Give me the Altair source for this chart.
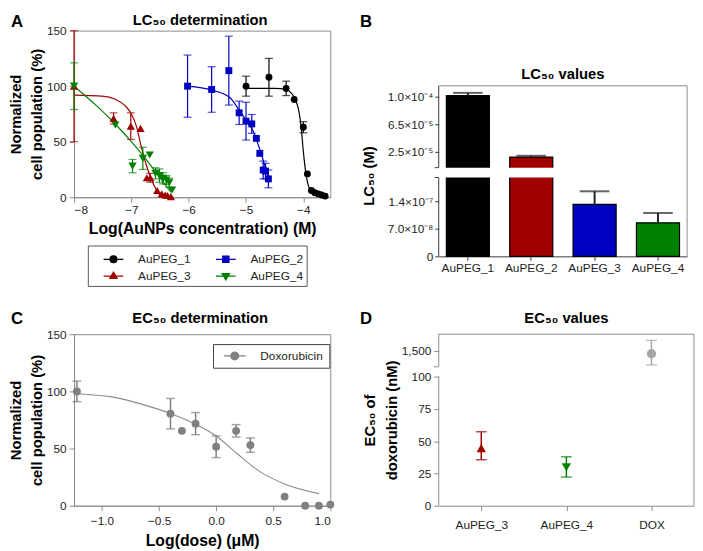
import altair as alt
import pandas as pd

FONT = "Liberation Sans"
LBL = "#1e1e1e"
AXG = "#8c8c8c"
AXD = "#3a3a3a"
T = 26  # page y of top row plot (as laid out)

# ---------------- Panel A data ----------------
names = ["AuPEG_1", "AuPEG_2", "AuPEG_3", "AuPEG_4"]
colors = ["#000000", "#0000c0", "#a00000", "#008000"]
shapes = ["circle", "square", "triangle-up", "triangle-down"]
msizes = [49, 49, 70, 70]
legend_paths = [
    "M-1,0L1,0M0.35,0A0.35,0.35,0,1,1,-0.35,0A0.35,0.35,0,1,1,0.35,0Z",
    "M-1,0L1,0M-0.32,-0.32L0.32,-0.32L0.32,0.32L-0.32,0.32Z",
    "M-1,0L1,0M0,-0.4L0.38,0.25L-0.38,0.25Z",
    "M-1,0L1,0M0,0.4L0.38,-0.25L-0.38,-0.25Z",
]

p1_x = [-5.0, -4.6, -4.3, -4.16, -4.0, -3.93, -3.86, -3.80, -3.74, -3.68, -3.62]
p1_y = [100, 108, 98, 88, 63, 21, 6, 4, 3, 2, 1]
p1_e = [9, 17, 6.5, 0, 5, 0, 0, 0, 0, 0, 0]
p2_x = [-6.02, -5.6, -5.3, -5.12, -5.0, -4.9, -4.82, -4.76, -4.70, -4.66, -4.61]
p2_y = [100, 97, 114, 76, 68.5, 66, 53, 39.5, 24.5, 23.5, 16.5]
p2_e = [28, 20.5, 31, 10.5, 17, 8.5, 0, 0, 8, 7, 8]
p3_x = [-8.0, -7.31, -7.01, -6.84, -6.73, -6.67, -6.55, -6.47, -6.41, -6.37, -6.31]
p3_y = [100, 71, 64, 62, 17.5, 17.5, 6, 3, 2, 1.5, 0.5]
p3_e = [50, 5, 12, 0, 0, 4, 0, 0, 0, 0, 0]
p4_x = [-8.0, -7.28, -6.98, -6.80, -6.68, -6.58, -6.51, -6.45, -6.39, -6.34, -6.29]
p4_y = [100, 65, 28, 35, 38, 21.5, 19.5, 17, 15.5, 13, 6.5]
p4_e = [21, 0, 6, 10, 0, 5, 6, 5, 4, 4, 0]

c1_x = [-5.0, -4.5, -4.28, -4.23, -4.14, -4.08, -4.04, -4.0, -3.96, -3.91, -3.86, -3.75, -3.62]
c1_y = [98, 98, 96.8, 94.8, 88, 78, 64, 41, 23, 10, 5.8, 3, 1.5]
c2_x = [-6.02, -5.6, -5.28, -5.14, -5.0, -4.88, -4.82, -4.74, -4.66, -4.60]
c2_y = [100, 96.5, 89.6, 80, 69.4, 60, 52, 40, 26, 15]
c3_x = [-8.0, -7.51, -7.29, -7.11, -7.0, -6.91, -6.83, -6.74, -6.66, -6.57, -6.49, -6.40, -6.31]
c3_y = [92, 91, 88.4, 82.4, 75, 63.6, 46, 29, 17.3, 7.2, 1.4, 0.2, 0]
c4_x = [-8.0, -7.6, -7.29, -7.0, -6.8, -6.55, -6.31]
c4_y = [100, 82, 66.4, 50, 37.6, 21, 4.3]

a_xticks = [-8, -7, -6, -5, -4]
a_yticks = [0, 50, 100, 150]

# ---------------- Panel B data ----------------
b_names = ["AuPEG_1", "AuPEG_2", "AuPEG_3", "AuPEG_4"]
b_colors = ["#000000", "#a00000", "#0000c0", "#008000"]
b_vals = [1.01e-4, 1.8e-5, 1.32e-7, 8.5e-8]
b_sd = [3.5e-6, 1.8e-6, 3.3e-8, 2.5e-8]
b_domain = [0, 2.0e-7, 3.8e-6, 1.14e-4]
b_ticks = [0, 7e-8, 1.4e-7, 2.5e-5, 6.25e-5, 1.0e-4]
b_labels = ["0", "7.0×10⁻⁸", "1.4×10⁻⁷", "2.5×10⁻⁵", "6.5×10⁻⁵", "1.0×10⁻⁴"]

# ---------------- Panel C data ----------------
c_x = [-1.22, -0.40, -0.30, -0.18, 0.0, 0.175, 0.30, 0.60, 0.78, 0.90, 1.0]
c_y = [100, 80.5, 65.5, 71.8, 51.6, 65.5, 53, 8, 0, 0, 1]
c_e = [9, 13.3, 0, 9.7, 9.5, 5.4, 6.3, 0, 0, 0, 0]
cf_x = [-1.22, -0.914, -0.625, -0.39, -0.19, 0.0, 0.18, 0.38, 0.61, 0.90]
cf_y = [98, 95.2, 88, 80.3, 71.7, 61, 45.9, 30, 18.6, 10.6]
c_xticks = [-1.0, -0.5, 0.0, 0.5, 1.0]
c_path = "M-1,0L1,0M0.36,0A0.36,0.36,0,1,1,-0.36,0A0.36,0.36,0,1,1,0.36,0Z"

# ---------------- Panel D data ----------------
d_names = ["AuPEG_3", "AuPEG_4", "DOX"]
d_vals = [44.6, 29.8, 1400]
d_lo = [35.6, 22.2, 1057]
d_hi = [57.3, 37.9, 1810]
d_colors = ["#a00000", "#008000", "#a6a6a6"]
d_shapes = ["triangle-up", "triangle-down", "circle"]
d_domain = [0, 100, 1000, 2000]
d_ticks = [0, 25, 50, 75, 100, 1500]
d_labels = ["0", "25", "50", "75", "100", "1,500"]

one = pd.DataFrame({"k": [0]})


def label_expr(vals, labels):
    arr_l = "[" + ",".join("'" + s + "'" for s in labels) + "]"
    arr_v = "[" + ",".join(repr(float(v)) for v in vals) + "]"
    return arr_l + "[indexof(" + arr_v + ", datum.value)]"


def letter(ch, x, y):
    return alt.Chart(one).mark_text(
        text=ch, font=FONT, fontSize=17, fontWeight="bold", align="left",
        baseline="alphabetic", color="black"
    ).encode(x=alt.value(x), y=alt.value(y))


def heading(txt, x, y):
    return alt.Chart(one).mark_text(
        text=txt, font=FONT, fontSize=15, fontWeight="bold", align="center",
        baseline="middle", color="black"
    ).encode(x=alt.value(x), y=alt.value(y))


ax_common = dict(labelFont=FONT, labelFontSize=12, labelColor=LBL, titleFont=FONT,
                 titleColor="black", titleFontWeight="bold", grid=False, labelOverlap=False)

# ================= Panel A =================
WA, HA = 260, 195 - T
cmap = dict(zip(names, colors))
rows = []
for n, xs, ys, es in zip(names, [p1_x, p2_x, p3_x, p4_x], [p1_y, p2_y, p3_y, p4_y], [p1_e, p2_e, p3_e, p4_e]):
    for x, y, e in zip(xs, ys, es):
        rows.append({"series": n, "col": cmap[n], "x": x, "y": y, "err": e, "lo": y - e, "hi": y + e})
dA = pd.DataFrame(rows)
dAerr = dA[dA["err"] > 0]
crow = []
for n, xs, ys in zip(names, [c1_x, c2_x, c3_x, c4_x], [c1_y, c2_y, c3_y, c4_y]):
    for x, y in zip(xs, ys):
        crow.append({"series": n, "col": cmap[n], "x": x, "y": y})
dAc = pd.DataFrame(crow)

xA_axis = alt.Axis(values=a_xticks, format="d", title="Log(AuNPs concentration) (M)",
                   titleFontSize=16, labelPadding=3, titlePadding=5, tickSize=5,
                   domainColor=AXG, tickColor=AXG, **ax_common)
yA_axis = alt.Axis(values=a_yticks, format="d", title=["Normalized", "cell population (%)"],
                   titleFontSize=15, titleLineHeight=21, titleX=-51, titleY=HA / 2,
                   labelPadding=3, tickSize=5, domainColor=AXG, tickColor=AXG, **ax_common)
sxA = alt.Scale(domain=[-8, -3.53], nice=False, zero=False)
syA = alt.Scale(domain=[0, 150], nice=False, zero=False)


def xA(f):
    return alt.X(f + ":Q", scale=sxA, axis=xA_axis)


def yA(f):
    return alt.Y(f + ":Q", scale=syA, axis=yA_axis)


colA = alt.Color("col:N", scale=None)

curvesA = alt.Chart(dAc).mark_line(strokeWidth=1.2, interpolate="monotone").encode(
    x=xA("x"), y=yA("y"), color=colA, detail="series:N")
errA = alt.Chart(dAerr).mark_rule(strokeWidth=1.2).encode(x=xA("x"), y=yA("lo"), y2="hi:Q", color=colA)
capLoA = alt.Chart(dAerr).mark_tick(orient="horizontal", size=8, thickness=1.2).encode(x=xA("x"), y=yA("lo"), color=colA)
capHiA = alt.Chart(dAerr).mark_tick(orient="horizontal", size=8, thickness=1.2).encode(x=xA("x"), y=yA("hi"), color=colA)
ptsA = []
for n, s, sz in zip(names, shapes, msizes):
    ptsA.append(alt.Chart(dA[dA["series"] == n]).mark_point(filled=True, shape=s, size=sz, opacity=1)
                .encode(x=xA("x"), y=yA("y"), color=colA))

# legend entries are laid out column by column: order them so rows read 1,2 / 3,4
leg_order = [0, 2, 1, 3]
leg_names = [names[i] for i in leg_order]
leg_colors = [colors[i] for i in leg_order]
leg_paths = [legend_paths[i] for i in leg_order]
legA = alt.Legend(orient="none", legendX=14, legendY=244 - T, columns=2, title=None,
                  strokeColor="#555555", fillColor="white", padding=3, symbolOffset=12,
                  symbolSize=400, symbolStrokeWidth=1.2, symbolOpacity=1,
                  rowPadding=0, columnPadding=12, labelOffset=14, labelFont=FONT,
                  labelFontSize=12, labelColor=LBL)
dAfirst = dA.groupby("series", as_index=False).first()
hiddenA = alt.Chart(dAfirst).mark_point(filled=True, opacity=0).encode(
    x=xA("x"), y=yA("y"),
    fill=alt.Fill("series:N", scale=alt.Scale(domain=leg_names, range=leg_colors), legend=legA),
    stroke=alt.Stroke("series:N", scale=alt.Scale(domain=leg_names, range=leg_colors), legend=legA),
    shape=alt.Shape("series:N", scale=alt.Scale(domain=leg_names, range=leg_paths), legend=legA),
)

chartA = alt.layer(
    curvesA, errA, capLoA, capHiA, *ptsA, hiddenA,
    letter("A", -64, -4), heading("LC₅₀ determination", WA / 2 - 2, -11)
).properties(width=WA, height=HA)

# ================= Panel B =================
WB = 252
HB = 255 - T
b_range = [HB, HB - 80, HB - 90, 82 - T]
dB = pd.DataFrame({"name": b_names, "val": b_vals, "hi": [v + s for v, s in zip(b_vals, b_sd)], "col": b_colors})
syB = alt.Scale(domain=b_domain, range=b_range, nice=False, zero=False)
yB_axis = alt.Axis(values=b_ticks, labelExpr=label_expr(b_ticks, b_labels), title="LC₅₀ (M)",
                   domain=False, tickColor=AXD, tickSize=4, labelPadding=2, titleFontSize=15,
                   titleX=-63, titleY=173 - T, **ax_common)
xB = alt.X("name:N", sort=b_names, scale=alt.Scale(paddingInner=0.32, paddingOuter=0.12),
           axis=alt.Axis(title=None, labelAngle=0, domainColor=AXD, tickColor=AXD, tickSize=4,
                         labelPadding=2, **ax_common))

# decoration geometry (axis segments, break, frame) in data units of the broken scale
segB = pd.DataFrame({"y0": [b_domain[0], b_domain[2]], "y1": [b_domain[1], b_domain[3]]})
gapB_df = pd.DataFrame({"y0": [b_domain[1]], "y1": [b_domain[2]]})
brkB = pd.DataFrame({"y0": [b_domain[1], b_domain[2]]})
topB_df = pd.DataFrame({"y1": [b_domain[3]], "y0": [b_domain[0]]})


def yB(f):
    return alt.Y(f + ":Q", scale=syB, axis=yB_axis)


barsB = alt.Chart(dB).mark_bar(stroke="black", strokeWidth=1.2).encode(
    x=xB, y=yB("val"), color=alt.Color("col:N", scale=None))
errB = alt.Chart(dB).mark_rule(color="#222222", strokeWidth=2).encode(x=xB, y=yB("val"), y2="hi:Q")
capB = alt.Chart(dB).mark_tick(color="#222222", thickness=2, size=30).encode(x=xB, y=yB("hi"))
gapB = alt.Chart(gapB_df).mark_rect(color="white").encode(
    x=alt.value(0), x2=alt.value(WB), y=yB("y0"), y2="y1:Q")
leftB = alt.Chart(segB).mark_rule(color=AXD, strokeWidth=1).encode(
    x=alt.value(0), y=yB("y0"), y2="y1:Q")
brkTicksB = alt.Chart(brkB).mark_rule(color=AXD, strokeWidth=1).encode(
    x=alt.value(-4), x2=alt.value(0), y=yB("y0"))
rightB = alt.Chart(topB_df).mark_rule(color=AXG, strokeWidth=1).encode(
    x=alt.value(WB), y=yB("y0"), y2="y1:Q")
topB = alt.Chart(topB_df).mark_rule(color=AXG, strokeWidth=1).encode(
    x=alt.value(0), x2=alt.value(WB), y=yB("y1"))

chartB = alt.layer(
    barsB, errB, capB, gapB, leftB, brkTicksB, rightB, topB,
    letter("B", -80, -4), heading("LC₅₀ values", WB / 2, 70 - T)
).properties(width=WB, height=HB, view=alt.ViewBackground(stroke="transparent"))

# ================= Panel C =================
WC, HC = 260, 174
dC = pd.DataFrame({"x": c_x, "y": c_y, "err": c_e})
dC["lo"] = dC["y"] - dC["err"]
dC["hi"] = dC["y"] + dC["err"]
dCerr = dC[dC["err"] > 0]
dCf = pd.DataFrame({"x": cf_x, "y": cf_y})
GRAY = "#808080"

xC_axis = alt.Axis(values=c_xticks, format=".1f", title="Log(dose) (μM)", titleFontSize=16,
                   labelPadding=5, titlePadding=6, tickSize=5, domainColor=AXG, tickColor=AXG, **ax_common)
yC_axis = alt.Axis(values=a_yticks, format="d", title=["Normalized", "cell population (%)"],
                   titleFontSize=15, titleLineHeight=21, titleX=-51, titleY=HC / 2,
                   labelPadding=3, tickSize=5, domainColor=AXG, tickColor=AXG, **ax_common)
sxC = alt.Scale(domain=[-1.245, 1.0], nice=False, zero=False)
syC = alt.Scale(domain=[0, 150], nice=False, zero=False)


def xC(f):
    return alt.X(f + ":Q", scale=sxC, axis=xC_axis)


def yC(f):
    return alt.Y(f + ":Q", scale=syC, axis=yC_axis)


curveC = alt.Chart(dCf).mark_line(color="#8c8c8c", strokeWidth=1.1, interpolate="monotone").encode(x=xC("x"), y=yC("y"))
errC = alt.Chart(dCerr).mark_rule(color=GRAY, strokeWidth=1.5).encode(x=xC("x"), y=yC("lo"), y2="hi:Q")
capLoC = alt.Chart(dCerr).mark_tick(orient="horizontal", color=GRAY, size=9, thickness=1.5).encode(x=xC("x"), y=yC("lo"))
capHiC = alt.Chart(dCerr).mark_tick(orient="horizontal", color=GRAY, size=9, thickness=1.5).encode(x=xC("x"), y=yC("hi"))
ptsC = alt.Chart(dC).mark_point(filled=True, shape="circle", size=64, color=GRAY, opacity=1).encode(x=xC("x"), y=yC("y"))
legC = alt.Legend(orient="none", legendX=141, legendY=10, title=None, strokeColor="#444444",
                  fillColor="white", padding=6, symbolOffset=4, symbolType=c_path, symbolSize=484,
                  symbolStrokeWidth=1.2, symbolOpacity=1, clipHeight=12, labelOffset=14,
                  labelFont=FONT, labelFontSize=12, labelColor=LBL)
dCleg = pd.DataFrame({"label": ["Doxorubicin"], "x": [0.0], "y": [50.0]})
hiddenC = alt.Chart(dCleg).mark_point(filled=True, opacity=0).encode(
    x=xC("x"), y=yC("y"),
    fill=alt.Fill("label:N", scale=alt.Scale(domain=["Doxorubicin"], range=[GRAY]), legend=legC),
    stroke=alt.Stroke("label:N", scale=alt.Scale(domain=["Doxorubicin"], range=[GRAY]), legend=legC),
)
chartC = alt.layer(
    curveC, errC, capLoC, capHiC, ptsC, hiddenC,
    letter("C", -64, -10), heading("EC₅₀ determination", WC / 2 - 2, -16)
).properties(width=WC, height=HC)

# ================= Panel D =================
WD, HD = 259, 174
dD = pd.DataFrame({"name": d_names, "val": d_vals, "lo": d_lo, "hi": d_hi, "col": d_colors, "shp": d_shapes})
syD = alt.Scale(domain=d_domain, range=[HD, HD - 131, HD - 141, 0], nice=False, zero=False)
yD_axis = alt.Axis(values=d_ticks, labelExpr=label_expr(d_ticks, d_labels),
                   title=["EC₅₀ of", "doxorubicin (nM)"], titleFontSize=15, titleLineHeight=22,
                   titleX=-62, titleY=HD / 2, domain=False, tickColor=AXG, tickSize=5,
                   labelPadding=3, **ax_common)
xD = alt.X("name:N", sort=d_names, scale=alt.Scale(type="point", padding=0.5),
           axis=alt.Axis(title=None, labelAngle=0, domainColor=AXG, tickColor=AXG, tickSize=5,
                         labelPadding=9, **ax_common))

segD = pd.DataFrame({"y0": [d_domain[0], d_domain[2]], "y1": [d_domain[1], d_domain[3]]})
brkD = pd.DataFrame({"y0": [d_domain[2]]})
topD_df = pd.DataFrame({"y1": [d_domain[3]], "y0": [d_domain[0]]})


def yD(f):
    return alt.Y(f + ":Q", scale=syD, axis=yD_axis)


colD = alt.Color("col:N", scale=None)
errD = alt.Chart(dD).mark_rule(strokeWidth=1.5).encode(x=xD, y=yD("lo"), y2="hi:Q", color=colD)
capLoD = alt.Chart(dD).mark_tick(thickness=1.5, size=11).encode(x=xD, y=yD("lo"), color=colD)
capHiD = alt.Chart(dD).mark_tick(thickness=1.5, size=11).encode(x=xD, y=yD("hi"), color=colD)
ptsD = alt.Chart(dD).mark_point(filled=True, size=90, opacity=1).encode(
    x=xD, y=yD("val"), color=colD, shape=alt.Shape("shp:N", scale=None))
leftD = alt.Chart(segD).mark_rule(color=AXG, strokeWidth=1).encode(
    x=alt.value(0), y=yD("y0"), y2="y1:Q")
brkTicksD = alt.Chart(brkD).mark_rule(color=AXG, strokeWidth=1).encode(
    x=alt.value(-5), x2=alt.value(0), y=yD("y0"))
rightD = alt.Chart(topD_df).mark_rule(color=AXG, strokeWidth=1).encode(
    x=alt.value(WD), y=yD("y0"), y2="y1:Q")
topD = alt.Chart(topD_df).mark_rule(color=AXG, strokeWidth=1).encode(
    x=alt.value(0), x2=alt.value(WD), y=yD("y1"))

chartD = alt.layer(
    errD, capLoD, capHiD, ptsD, leftD, brkTicksD, rightD, topD,
    letter("D", -80, -10), heading("EC₅₀ values", WD / 2, -16)
).properties(width=WD, height=HD, view=alt.ViewBackground(stroke="transparent"))

chart = alt.concat(
    chartA, chartB, chartC, chartD, columns=2,
    spacing={"row": 79, "column": 110}, bounds="flush", padding=0,
).resolve_scale(
    fill="independent", stroke="independent", shape="independent"
).configure(font=FONT).configure_view(stroke=AXG, strokeWidth=1)

chart.save("out.html", embed_options={"renderer": "svg", "actions": False})
